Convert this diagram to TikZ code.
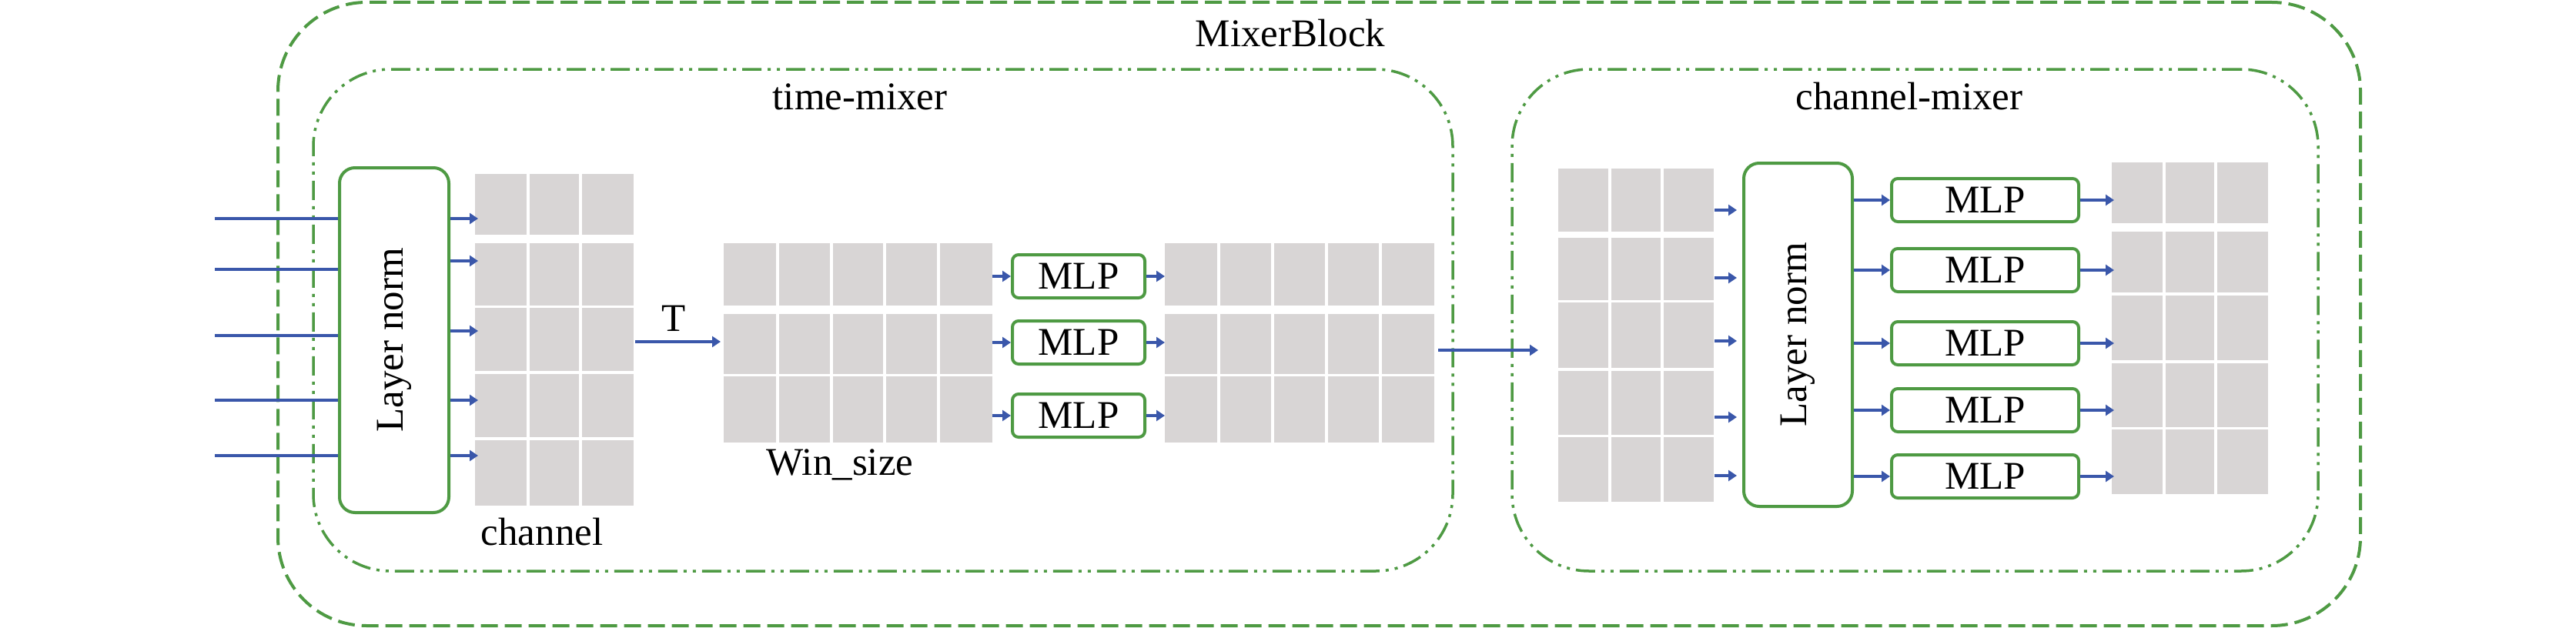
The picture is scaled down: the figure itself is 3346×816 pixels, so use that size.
\documentclass[tikz,border=0pt]{standalone}
\usepackage{fontspec}
\setmainfont{Liberation Serif}
\usetikzlibrary{arrows.meta}
\definecolor{grn}{HTML}{4E9A43}
\definecolor{blu}{HTML}{3A57AA}
\definecolor{cellgray}{HTML}{D8D5D5}
\newcommand{\colsep}[5]{\foreach \k in {1,...,#3}{\draw[sepline] ({#1+\k*#2/(#3+1)},#4) -- ({#1+\k*#2/(#3+1)},#5);}}
\begin{document}
\begin{tikzpicture}[x=1pt,y=-1pt,
  bigfont/.style={font=\fontsize{51}{60}\selectfont},
  lbl/.style={bigfont, inner sep=0pt, anchor=base},
  outerbox/.style={draw=grn, line width=4pt, dash pattern=on 22pt off 9pt, rounded corners=115pt, inner sep=0pt},
  innerbox/.style={draw=grn, line width=3.5pt, dash pattern=on 25pt off 8pt on 4pt off 8pt on 4pt off 8pt, rounded corners=100pt, inner sep=0pt},
  cellrow/.style={fill=cellgray, inner sep=0pt, anchor=north west},
  sepline/.style={white, line width=4pt},
  lnbox/.style={draw=grn, line width=4pt, rounded corners=20pt, fill=white, inner sep=0pt, bigfont},
  mlpbox/.style={draw=grn, line width=4pt, rounded corners=8pt, fill=white, inner sep=0pt, bigfont, minimum height=56pt},
  inl/.style={draw=blu, line width=3.5pt},
  arr/.style={draw=blu, line width=3.5pt, -{Triangle[length=11pt,width=14pt]}}
]
\useasboundingbox (0,0) rectangle (3346,816);

% containers
\node[outerbox, minimum width=2705pt, minimum height=810pt] (mixer) at (1713.5,408) {};
\node[innerbox, minimum width=1480pt, minimum height=652pt] (timemix) at (1147,416) {};
\node[innerbox, minimum width=1047pt, minimum height=652pt] (chanmix) at (2487.5,416) {};

% labels
\node[lbl] (mb) at (1676,60) {MixerBlock};
\node[lbl] (tm) at (1117,142) {time-mixer};
\node[lbl] (cm) at (2480,142) {channel-mixer};
\node[lbl] (ch) at (704,708) {channel};
\node[lbl] (ws) at (1091,617) {Win\_size};
\node[lbl] (tl) at (875,430) {T};

% grid 1
\node[cellrow, minimum width=206pt, minimum height=79pt] (g1a) at (617,226) {};
\node[cellrow, minimum width=206pt, minimum height=81pt] (g1b) at (617,316) {};
\node[cellrow, minimum width=206pt, minimum height=82pt] (g1c) at (617,400) {};
\node[cellrow, minimum width=206pt, minimum height=82pt] (g1d) at (617,486) {};
\node[cellrow, minimum width=206pt, minimum height=85pt] (g1e) at (617,572) {};
\colsep{617}{206}{2}{226}{657}
% grid 2
\node[cellrow, minimum width=349pt, minimum height=81pt] (g2a) at (940,316) {};
\node[cellrow, minimum width=349pt, minimum height=78pt] (g2b) at (940,408) {};
\node[cellrow, minimum width=349pt, minimum height=86pt] (g2c) at (940,489) {};
\colsep{940}{349}{4}{316}{575}
% grid 3
\node[cellrow, minimum width=350pt, minimum height=81pt] (g3a) at (1513,316) {};
\node[cellrow, minimum width=350pt, minimum height=78pt] (g3b) at (1513,408) {};
\node[cellrow, minimum width=350pt, minimum height=86pt] (g3c) at (1513,489) {};
\colsep{1513}{350}{4}{316}{575}
% grid 4
\node[cellrow, minimum width=202pt, minimum height=82pt] (g4a) at (2024,219) {};
\node[cellrow, minimum width=202pt, minimum height=81pt] (g4b) at (2024,309) {};
\node[cellrow, minimum width=202pt, minimum height=85pt] (g4c) at (2024,393) {};
\node[cellrow, minimum width=202pt, minimum height=83pt] (g4d) at (2024,482) {};
\node[cellrow, minimum width=202pt, minimum height=84pt] (g4e) at (2024,568) {};
\colsep{2024}{202}{2}{219}{652}
% grid 5
\node[cellrow, minimum width=203pt, minimum height=79pt] (g5a) at (2743,211) {};
\node[cellrow, minimum width=203pt, minimum height=79pt] (g5b) at (2743,301) {};
\node[cellrow, minimum width=203pt, minimum height=84pt] (g5c) at (2743,384) {};
\node[cellrow, minimum width=203pt, minimum height=83pt] (g5d) at (2743,472) {};
\node[cellrow, minimum width=203pt, minimum height=84pt] (g5e) at (2743,558) {};
\colsep{2743}{203}{2}{211}{642}

% layer norms
\node[lnbox, minimum width=142pt, minimum height=448pt] (ln1) at (512,442) {\rotatebox{90}{Layer norm}};
\node[lnbox, minimum width=141pt, minimum height=446pt] (ln2) at (2335.5,435) {\rotatebox{90}{Layer norm}};

% MLPs time-mixer
\node[mlpbox, minimum width=172pt] (m1a) at (1401,359) {MLP};
\node[mlpbox, minimum width=172pt] (m1b) at (1401,445) {MLP};
\node[mlpbox, minimum width=172pt] (m1c) at (1401,540) {MLP};
% MLPs channel-mixer
\node[mlpbox, minimum width=243pt] (m2a) at (2578.5,260) {MLP};
\node[mlpbox, minimum width=243pt] (m2b) at (2578.5,351) {MLP};
\node[mlpbox, minimum width=243pt] (m2c) at (2578.5,446) {MLP};
\node[mlpbox, minimum width=243pt] (m2d) at (2578.5,533) {MLP};
\node[mlpbox, minimum width=243pt] (m2e) at (2578.5,619) {MLP};

% input lines
\foreach \n/\y in {1/284,2/350,3/436,4/520,5/592}{
  \coordinate (in\n) at (279,\y);
  \draw[inl] (in\n) -- (in\n -| ln1.west);
}
% LN1 -> grid1
\foreach \n/\y in {1/284,2/339,3/430,4/520,5/592}{
  \coordinate (o\n) at (621,\y);
  \draw[arr] (o\n -| ln1.east) -- (o\n);
}
% transpose arrow
\coordinate (tS) at (825,444);
\coordinate (tE) at (936,444);
\draw[arr] (tS) -- (tE);
% grid2 -> MLP -> grid3
\foreach \m in {m1a,m1b,m1c}{
  \draw[arr] (\m.west -| g2a.east) -- (\m.west);
  \draw[arr] (\m.east) -- (\m.east -| g3a.west);
}
% time-mixer -> channel-mixer
\coordinate (cS) at (1868,455);
\coordinate (cE) at (1998,455);
\draw[arr] (cS) -- (cE);
% grid4 -> LN2
\foreach \n/\y in {1/273,2/361,3/443,4/542,5/618}{
  \coordinate (p\n) at (2227,\y);
  \draw[arr] (p\n) -- ([xshift=-7pt]p\n -| ln2.west);
}
% LN2 -> MLP -> grid5
\foreach \m in {m2a,m2b,m2c,m2d,m2e}{
  \draw[arr] (\m.west -| ln2.east) -- (\m.west);
  \draw[arr] (\m.east) -- ([xshift=3pt]\m.east -| g5a.west);
}
\end{tikzpicture}
\end{document}
